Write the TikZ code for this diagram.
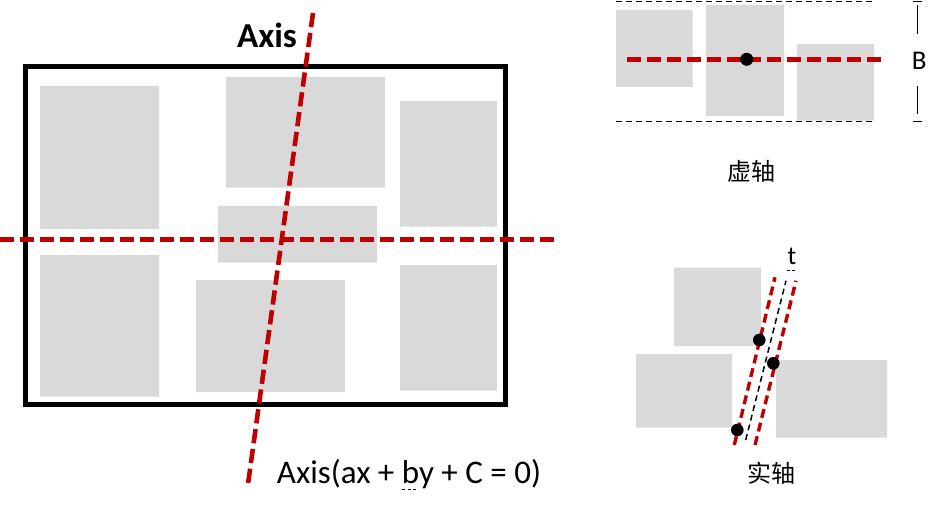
\documentclass[tikz,border=0pt]{standalone}
\usepackage{fontspec}
\setmainfont{Carlito}
\newfontfamily\cjk{Noto Sans CJK SC}
\usepackage{tikz}
\usetikzlibrary{calc}
\definecolor{axisred}{HTML}{C00000}
\definecolor{boxgray}{HTML}{D9D9D9}

\begin{document}
\begin{tikzpicture}[x=1pt,y=-1pt,
	obj/.style={fill=boxgray},
	axisline/.style={draw=axisred,line width=4.6pt,dash pattern=on 14.3pt off 5.7pt},
	thinaxis/.style={draw=axisred,line width=3.4pt,dash pattern=on 9pt off 5pt},
	guide/.style={draw=black,line width=1.5pt,dash pattern=on 6pt off 4pt},
	marker/.style={draw=black,line width=0.8pt,dash pattern=on 3pt off 2.5pt}]
\useasboundingbox (0,0) rectangle (945,513);
%objects in frame
\fill[obj] (40,86) rectangle + (119,143)
	(226,77) rectangle + (159,110.7)
	(400,101) rectangle + (97,125.7)
	(218,206) rectangle + (159,56.7)
	(40,255) rectangle + (119,141.7)
	(196,280) rectangle + (149,112)
	(400,265) rectangle + (97,125.7);
%frame
\draw[line width=4.7pt] (25.3,66.7) rectangle (505.7,404.3);
%axes
\draw[axisline] (0,239.3) -- (555,239.3);
\draw[axisline] (313,13) -- (248,484);
\path (267,48) node[anchor=base,font=\bfseries\fontsize{35}{40}\selectfont] (axis) {Axis};
\path (409,483) node[anchor=base,font=\fontsize{33}{38}\selectfont] (eqn) {Axis(ax + by + C = 0)};
\draw[marker] (402.3,489.3) -- (418.3,489.3);
%virtual axis
\fill[obj] (616,10) rectangle + (76.7,77)
	(706,5) rectangle + (78,111)
	(797,44) rectangle + (77,76.7);
\draw[guide] (616,1.5) -- (874,1.5);
\draw[guide] (616,121.7) -- (874,121.7);
\draw[axisline] (626.7,59.3) -- (881.7,59.3);
\fill (746.7,59.3) circle (6.5);
\path (919.3,61) node[font=\fontsize{27}{30}\selectfont] (b) {B};
\draw[line width=0.9pt] (913.3,1) -- (921.7,1)
	(917.3,5) -- (917.3,34)
	(917.3,86) -- (917.3,114.3)
	(913.3,121) -- (921.7,121);
\path (751,171) node[font=\cjk\fontsize{24}{28}\selectfont] (virt) {虚轴};
%real axis
\fill[obj] (674,267.7) rectangle + (87,78.3)
	(636,354) rectangle + (96,73.7)
	(776,360) rectangle + (111,77.7);
\draw[thinaxis] (734.3,445) -- (775,277.3);
\draw[thinaxis] (755,445) -- (796,280.7);
\draw[guide] (745.7,440) -- (786,280.7);
\fill (759.3,340) circle (6.3)
	(773.3,363.3) circle (6.3)
	(737.3,430) circle (6.3);
\path (792,265) node[anchor=base,font=\fontsize{26}{30}\selectfont] (t) {t};
\draw[marker] (786.7,270.5) -- (795.7,270.5);
\path (771.5,473) node[font=\cjk\fontsize{24}{28}\selectfont] (real) {实轴};
\end{tikzpicture}
\end{document}
